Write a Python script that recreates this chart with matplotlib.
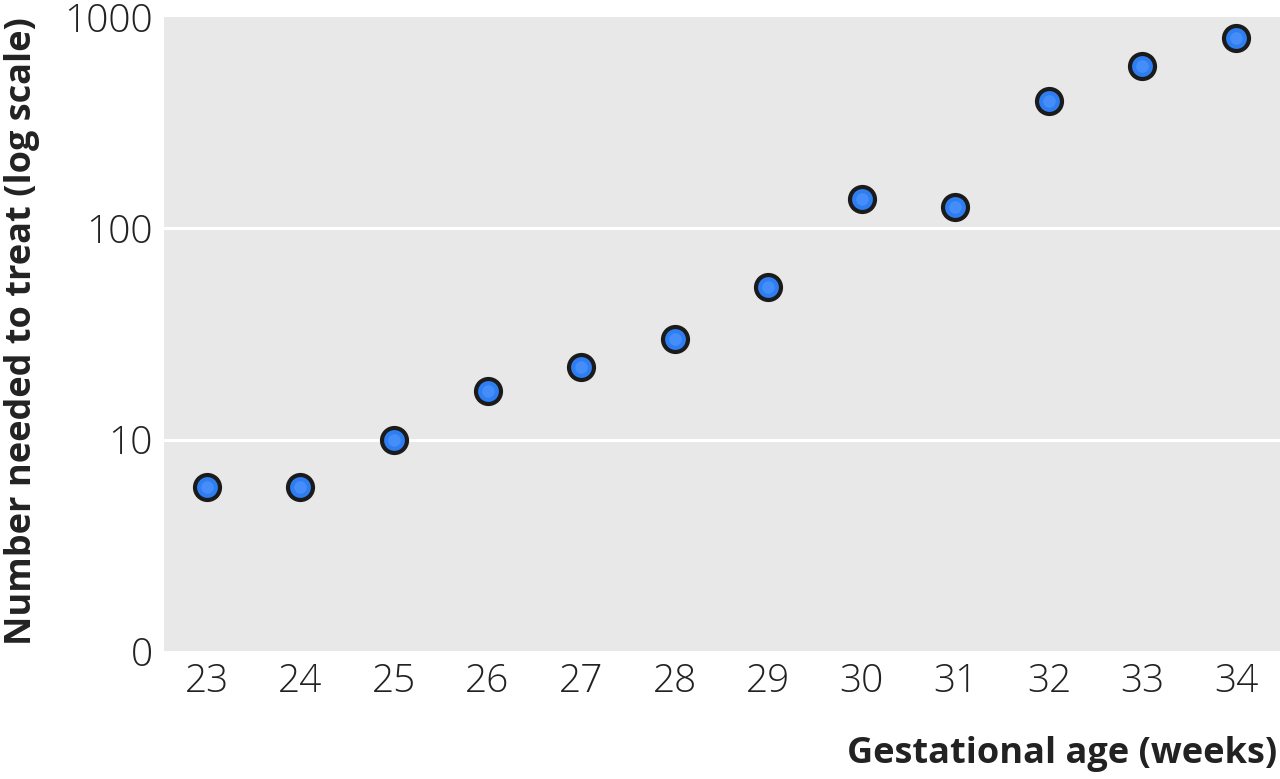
import numpy as np
import matplotlib.pyplot as plt
from matplotlib.ticker import FixedLocator, FixedFormatter

# gestational age (weeks) and number needed to treat
weeks = [23, 24, 25, 26, 27, 28, 29, 30, 31, 32, 33, 34]
nnt = [6, 6, 10, 17, 22, 30, 53, 138, 126, 400, 586, 795]

ytick_vals = [1, 10, 100, 1000]
ytick_labels = ['0', '10', '100', '1000']

plt.rcParams['font.family'] = ['Open Sans', 'DejaVu Sans']

fig = plt.figure(figsize=(12.8, 7.79), dpi=100)
ax = fig.add_axes([0.128, 0.1643, 0.872, 0.8139])
ax.set_facecolor('#e8e8e8')

ax.set_yscale('log')
ax.set_ylim(1, 1000)
ax.set_xlim(22.54, 34.47)

ax.yaxis.set_major_locator(FixedLocator(ytick_vals))
ax.yaxis.set_major_formatter(FixedFormatter(ytick_labels))
ax.yaxis.set_minor_locator(FixedLocator([]))
ax.set_xticks(weeks)
ax.set_xticklabels([str(w) for w in weeks])

for v in ytick_vals[1:-1]:
    ax.axhline(v, color='white', lw=2.2, zorder=1)

ax.plot(weeks, nnt, 'o', ms=18, mfc='#2e7ef2', mec='#1b1b1b', mew=3, zorder=3)
# soft highlight for the glossy look
ax.plot(weeks, nnt, 'o', ms=9, mfc='#4b93fb', mec='none', alpha=0.8, zorder=4)

for s in ax.spines.values():
    s.set_visible(False)
ax.tick_params(axis='both', length=0, labelsize=28, colors='#222222')
ax.tick_params(axis='y', pad=8)
ax.tick_params(axis='x', pad=8)
for lab in ax.get_xticklabels() + ax.get_yticklabels():
    lab.set_fontweight('light')

fig.text(0.017, 0.575, 'Number needed to treat (log scale)', rotation=90,
         ha='center', va='center', fontsize=26, fontweight='bold', color='#222222')
fig.text(0.998, 0.032, 'Gestational age (weeks)', ha='right', va='center',
         fontsize=26, fontweight='bold', color='#222222')

fig.savefig('out.png', dpi=100)
